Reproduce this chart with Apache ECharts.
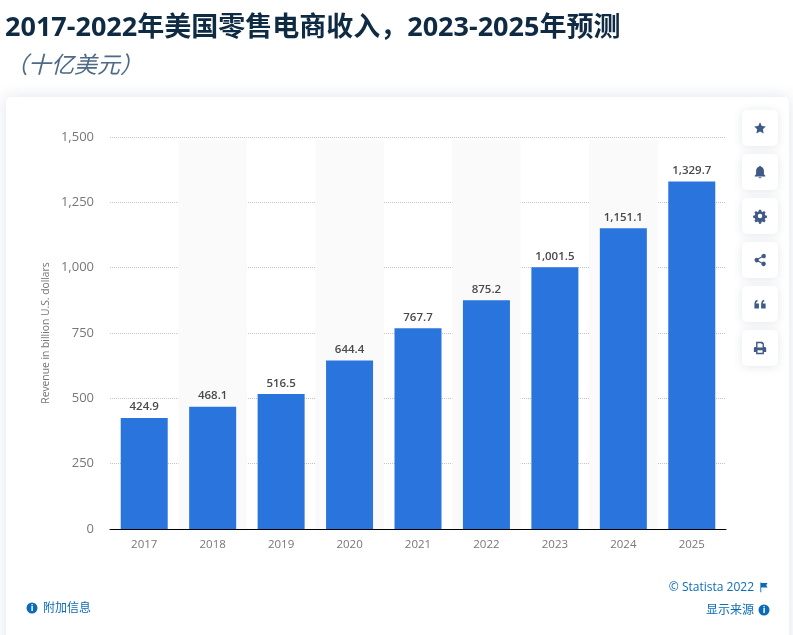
<!DOCTYPE html>
<html>
<head>
<meta charset="utf-8">
<style>
  html, body { margin: 0; padding: 0; background: #fff; }
  #chart { width: 793px; height: 635px; }
</style>
<script src="https://cdn.jsdelivr.net/npm/echarts@6/dist/echarts.min.js"></script>
</head>
<body>
<div id="chart"></div>
<script>
  var years = ['2017', '2018', '2019', '2020', '2021', '2022', '2023', '2024', '2025'];
  var revenue = [424.9, 468.1, 516.5, 644.4, 767.7, 875.2, 1001.5, 1151.1, 1329.7];

  var titleText = '2017-2022年美国零售电商收入，2023-2025年预测';
  var subtitleText = '（十亿美元）';
  var axisName = 'Revenue in billion U.S. dollars';

  var FONT = '"Open Sans", "Noto Sans CJK SC", sans-serif';
  var ICON_COLOR = '#3f5a85';
  var LINK_COLOR = '#0b6cb5';
  var AXIS_TEXT = '#777';

  // toolbar glyphs on a 24 unit box
  var toolIcons = [
    'M12 1.5l3.2 6.9 7.3.9-5.4 5.1 1.4 7.4L12 18.2l-6.5 3.6 1.4-7.4L1.5 9.3l7.3-.9z',
    'M12 1c1 0 1.7.7 1.8 1.7 3.4.8 5.2 3.6 5.2 7.3v6l2.5 2.5V20h-19v-1.500L5 16v-6c0-3.7 1.8-6.5 5.2-7.3C10.3 1.7 11 1 12 1zM9.500 21.500h5c0 1-1 1.800-2.500 1.800s-2.500-.8-2.500-1.800z',
    'M10 1h4l.6 3 2.1.9 2.6-1.7 2.800 2.800-1.700 2.600.9 2.100 3 .6v4l-3 .6-.9 2.100 1.700 2.600-2.800 2.800-2.600-1.700-2.100.9-.6 3h-4l-.6-3-2.100-.9-2.600 1.700-2.800-2.800 1.700-2.600-.9-2.100-3-.6v-4l3-.6.9-2.100-1.700-2.600 2.800-2.800 2.600 1.700 2.100-.9zM12 8a4 4 0 1 0 0 8 4 4 0 0 0 0-8z',
    'M18.500 1a4 4 0 1 1-3 6.700L9.800 10.800a4 4 0 0 1 0 2.400l5.700 3.100a4 4 0 1 1-1 1.800l-5.700-3.100a4 4 0 1 1 0-6l5.700-3.100A4 4 0 0 1 18.500 1z',
    'M2 20v-8c0-4 2-7 5.500-7.500v3C5.500 8 5 9.500 5 11h5v9zM14 20v-8c0-4 2-7 5.500-7.500v3C17.500 8 17 9.500 17 11h5v9z',
    'M5 1h11l3 3v6h1.500C22 10 23 11 23 12.500V19h-4v4H5v-4H1v-6.500C1 11 2 10 3.500 10H5zM7.500 3.500V11h9V5h-2V3.500zM7.500 16v4.500h9V16z'
  ];
  var flagIcon = 'M3 1h2v1h14l-3 5 3 5H5v11H3z';

  // the graphic component has no plain path type, so each glyph is registered as a shape
  toolIcons.forEach(function (icon, index) {
    echarts.graphic.registerShape('toolIcon' + index, echarts.graphic.extendPath(icon));
  });
  echarts.graphic.registerShape('flagIcon', echarts.graphic.extendPath(flagIcon));

  function toolButton(index) {
    var top = 110 + index * 44;
    return [{
      type: 'rect',
      silent: true,
      shape: { x: 742, y: top, width: 36, height: 36, r: 5 },
      style: { fill: '#fff', shadowBlur: 10, shadowColor: 'rgba(60,80,120,0.14)', shadowOffsetY: 1 },
      z: 5
    }, {
      type: 'toolIcon' + index,
      silent: true,
      x: 753.3,
      y: top + 11.3,
      scaleX: 0.56,
      scaleY: 0.56,
      style: { fill: ICON_COLOR },
      z: 6
    }];
  }

  function infoDot(cx, cy) {
    return [{
      type: 'circle',
      silent: true,
      shape: { cx: cx, cy: cy, r: 5.5 },
      style: { fill: LINK_COLOR },
      z: 6
    }, {
      type: 'text',
      silent: true,
      style: { x: cx, y: cy, text: 'i', fill: '#fff', font: 'bold 9px ' + FONT, textAlign: 'center', textVerticalAlign: 'middle' },
      z: 7
    }];
  }

  function footerText(x, y, text, align) {
    return {
      type: 'text',
      silent: true,
      style: { x: x, y: y, text: text, fill: LINK_COLOR, font: '12px ' + FONT, textAlign: align, textVerticalAlign: 'middle' },
      z: 6
    };
  }

  var graphics = [{
    type: 'rect',
    silent: true,
    shape: { x: 6, y: 97, width: 783, height: 560, r: 5 },
    style: { fill: '#fff', shadowBlur: 16, shadowColor: 'rgba(60,80,120,0.16)' },
    z: -10
  }, {
    type: 'text',
    silent: true,
    style: { x: 5, y: 28, text: titleText, fill: '#0f2a43', font: 'bold 27px ' + FONT, textVerticalAlign: 'middle' },
    z: 6
  }, {
    type: 'text',
    silent: true,
    style: { x: 5, y: 66, text: subtitleText, fill: '#4e6a87', font: 'italic 23px ' + FONT, textVerticalAlign: 'middle' },
    z: 6
  }, {
    type: 'text',
    silent: true,
    rotation: Math.PI / 2,
    x: 46,
    y: 333,
    style: { x: 0, y: 0, text: axisName, fill: AXIS_TEXT, font: '10.3px ' + FONT, textAlign: 'center', textVerticalAlign: 'middle' },
    z: 6
  },
    footerText(754, 588, '© Statista 2022', 'right'),
    footerText(754, 611, '显示来源', 'right'),
    footerText(43, 609, '附加信息', 'left'),
  {
    type: 'flagIcon',
    silent: true,
    x: 759,
    y: 582,
    scaleX: 0.45,
    scaleY: 0.45,
    style: { fill: LINK_COLOR },
    z: 6
  }];
  toolIcons.forEach(function (icon, index) {
    graphics = graphics.concat(toolButton(index));
  });
  graphics = graphics.concat(infoDot(764, 610), infoDot(32, 608));

  function thousands(value, digits) {
    return value.toLocaleString('en-US', { minimumFractionDigits: digits, maximumFractionDigits: digits });
  }

  var chart = echarts.init(document.getElementById('chart'), null, { renderer: 'canvas' });

  chart.setOption({
    animation: false,
    backgroundColor: 'transparent',
    textStyle: { fontFamily: FONT },
    graphic: graphics,
    grid: [
      { left: 110, right: 67, top: 137, height: 392 },
      // stripes stop a little below the top gridline, so they get their own grid
      { left: 110, right: 67, top: 140, height: 389, z: 0 }
    ],
    xAxis: [{
      type: 'category',
      data: years,
      gridIndex: 0,
      axisTick: { show: false },
      axisLine: { lineStyle: { color: '#000', width: 1 } },
      axisLabel: { color: AXIS_TEXT, fontSize: 11.5, margin: 10 }
    }, {
      type: 'category',
      data: years,
      gridIndex: 1,
      axisTick: { show: false },
      axisLine: { show: false },
      axisLabel: { show: false },
      splitArea: { show: true, areaStyle: { color: ['rgba(255,255,255,0)', '#fafafa'] } }
    }],
    yAxis: [{
      type: 'value',
      gridIndex: 0,
      min: 0,
      max: 1500,
      interval: 250,
      axisLine: { show: false },
      axisTick: { show: false },
      axisLabel: {
        color: AXIS_TEXT,
        fontSize: 13,
        margin: 16,
        formatter: function (value) { return thousands(value, 0); }
      },
      splitLine: { lineStyle: { color: '#c4c4c4', type: 'dotted', width: 1 } }
    }, {
      type: 'value',
      gridIndex: 1,
      show: false,
      min: 0,
      max: 1500
    }],
    series: [{
      type: 'bar',
      data: revenue,
      xAxisIndex: 0,
      yAxisIndex: 0,
      barWidth: 47,
      z: 3,
      itemStyle: { color: '#2a74dd' },
      label: {
        show: true,
        position: 'top',
        distance: 5,
        color: '#4a4a4a',
        fontSize: 11.5,
        fontWeight: 600,
        formatter: function (params) { return thousands(params.value, 1); }
      }
    }]
  });
</script>
</body>
</html>
